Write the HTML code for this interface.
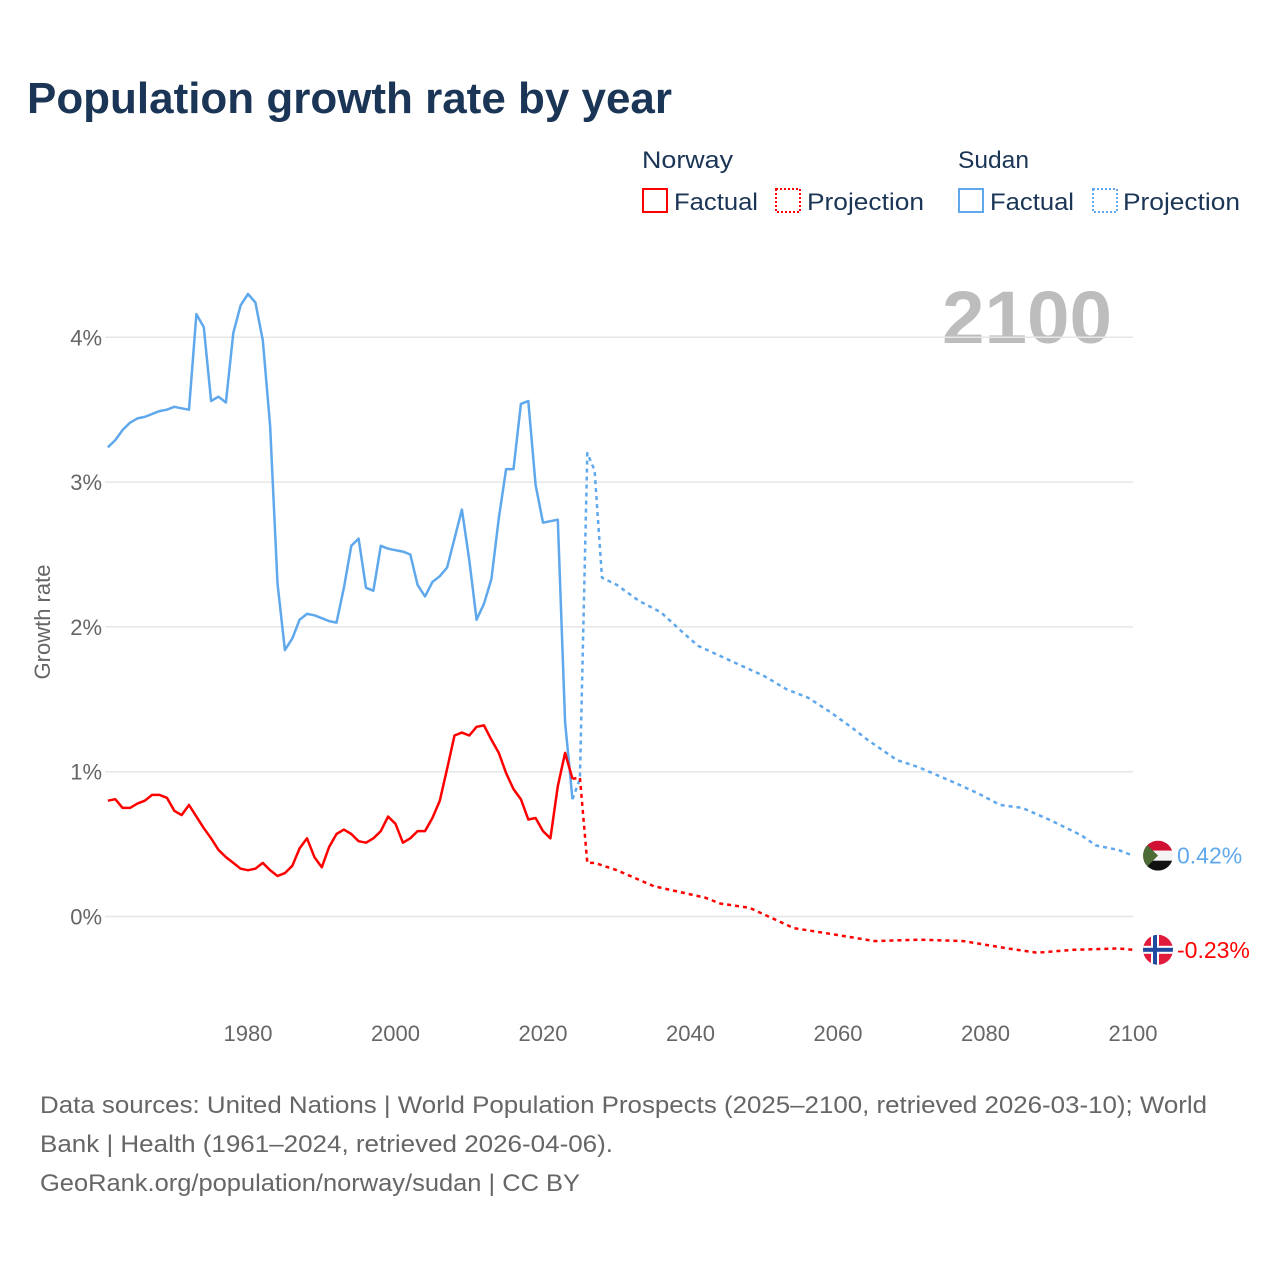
<!DOCTYPE html>
<html><head><meta charset="utf-8"><style>
html,body{margin:0;padding:0;background:#fff;}
svg{display:block;font-family:"Liberation Sans",sans-serif;}
</style></head><body>
<svg id="chart" width="1280" height="1280" viewBox="0 0 1280 1280">
<text x="27" y="113" font-size="44" font-weight="bold" fill="#1b3556" textLength="645" lengthAdjust="spacingAndGlyphs">Population growth rate by year</text>
<g>
<text x="642" y="168" font-size="24" fill="#1b3556" textLength="91" lengthAdjust="spacingAndGlyphs">Norway</text>
<text x="958" y="168" font-size="24" fill="#1b3556" textLength="71" lengthAdjust="spacingAndGlyphs">Sudan</text>
<g><rect x="643" y="189" width="24" height="23" fill="none" stroke="#ff0000" stroke-width="2"/><text x="674" y="210" font-size="24" fill="#1b3556" textLength="84" lengthAdjust="spacingAndGlyphs">Factual</text></g>
<g><rect x="776" y="189" width="24" height="23" fill="none" stroke="#ff0000" stroke-width="2" stroke-dasharray="2,2"/><text x="807" y="210" font-size="24" fill="#1b3556" textLength="117" lengthAdjust="spacingAndGlyphs">Projection</text></g>
<g><rect x="959" y="189" width="24" height="23" fill="none" stroke="#5fa8ec" stroke-width="2"/><text x="990" y="210" font-size="24" fill="#1b3556" textLength="84" lengthAdjust="spacingAndGlyphs">Factual</text></g>
<g><rect x="1093" y="189" width="24" height="23" fill="none" stroke="#5fa8ec" stroke-width="2" stroke-dasharray="2,2"/><text x="1123" y="210" font-size="24" fill="#1b3556" textLength="117" lengthAdjust="spacingAndGlyphs">Projection</text></g>
</g>
<text x="1112" y="343" font-size="74" font-weight="bold" fill="#bdbdbd" text-anchor="end" textLength="170" lengthAdjust="spacingAndGlyphs">2100</text>
<text transform="translate(50,622) rotate(-90)" font-size="22" fill="#666" text-anchor="middle">Growth rate</text>
<g id="grid"></g><g id="marks"></g>
<g font-size="24" fill="#666">
<text x="40" y="1113" textLength="1167" lengthAdjust="spacingAndGlyphs">Data sources: United Nations | World Population Prospects (2025–2100, retrieved 2026-03-10); World</text>
<text x="40" y="1152" textLength="573" lengthAdjust="spacingAndGlyphs">Bank | Health (1961–2024, retrieved 2026-04-06).</text>
<text x="40" y="1191" textLength="540" lengthAdjust="spacingAndGlyphs">GeoRank.org/population/norway/sudan | CC BY</text>
</g>
</svg>
<script>
const factualYears = [1961,1962,1963,1964,1965,1966,1967,1968,1969,1970,1971,1972,1973,1974,1975,1976,1977,1978,1979,1980,1981,1982,1983,1984,1985,1986,1987,1988,1989,1990,1991,1992,1993,1994,1995,1996,1997,1998,1999,2000,2001,2002,2003,2004,2005,2006,2007,2008,2009,2010,2011,2012,2013,2014,2015,2016,2017,2018,2019,2020,2021,2022,2023,2024];
const sudanFactual = [3.24,3.29,3.36,3.41,3.44,3.45,3.47,3.49,3.50,3.52,3.51,3.50,4.16,4.07,3.56,3.59,3.55,4.03,4.22,4.30,4.24,3.98,3.39,2.30,1.84,1.92,2.05,2.09,2.08,2.06,2.04,2.03,2.27,2.56,2.61,2.27,2.25,2.56,2.54,2.53,2.52,2.50,2.29,2.21,2.31,2.35,2.41,2.61,2.81,2.46,2.05,2.16,2.33,2.75,3.09,3.09,3.54,3.56,2.98,2.72,2.73,2.74,1.34,0.81];
const norwayFactual = [0.80,0.81,0.75,0.75,0.78,0.80,0.84,0.84,0.82,0.73,0.70,0.77,0.69,0.61,0.54,0.46,0.41,0.37,0.33,0.32,0.33,0.37,0.32,0.28,0.30,0.35,0.47,0.54,0.41,0.34,0.48,0.57,0.60,0.57,0.52,0.51,0.54,0.59,0.69,0.64,0.51,0.54,0.59,0.59,0.68,0.80,1.02,1.25,1.27,1.25,1.31,1.32,1.22,1.13,0.99,0.88,0.81,0.67,0.68,0.59,0.54,0.90,1.13,0.95];
const sudanProjYears = [2024,2025,2026,2027,2028,2030,2033,2036,2039,2041,2044,2047,2050,2053,2056,2059,2062,2064,2068,2071,2076,2079,2082,2085,2089,2093,2095,2098,2100];
const sudanProjection = [0.81,0.95,3.20,3.08,2.34,2.29,2.18,2.10,1.96,1.87,1.80,1.73,1.66,1.57,1.51,1.41,1.30,1.22,1.08,1.03,0.92,0.85,0.77,0.75,0.66,0.56,0.49,0.46,0.42];
const norwayProjYears = [2024,2025,2026,2027,2030,2035,2042,2044,2048,2054,2059,2065,2071,2077,2083,2087,2092,2098,2100];
const norwayProjection = [0.95,0.96,0.37,0.37,0.32,0.21,0.13,0.09,0.06,-0.08,-0.12,-0.17,-0.16,-0.17,-0.22,-0.25,-0.23,-0.22,-0.23];
const yTicks = [0,1,2,3,4];
const yTickLabels = ["0%","1%","2%","3%","4%"];
const xTicks = [1980,2000,2020,2040,2060,2080,2100];

const NS="http://www.w3.org/2000/svg";
function xs(yr){return 248+(yr-1980)*7.375;}
function ys(v){return 916.5-v*144.8;}
function mk(tag,attrs,parent){const e=document.createElementNS(NS,tag);for(const k in attrs)e.setAttribute(k,attrs[k]);parent.appendChild(e);return e;}
const grid=document.getElementById('grid'), marks=document.getElementById('marks');
yTicks.forEach((t,i)=>{
  const l=mk('line',{x1:105,x2:1133,y1:ys(t),y2:ys(t),stroke:'#e6e6e6','stroke-width':1.5},grid);
  
  
  const tx=mk('text',{x:102,y:ys(t)+8,'font-size':22,fill:'#666','text-anchor':'end'},grid);
  tx.textContent=yTickLabels[i];
  
  
});
xTicks.forEach(t=>{
  const tx=mk('text',{x:xs(t),y:1041,'font-size':22,fill:'#666','text-anchor':'middle'},grid);
  tx.textContent=t;
  
  
});
function path(xa,va,color,dash,name){
  const d=xa.map((yr,i)=>(i?'L':'M')+xs(yr).toFixed(1)+','+ys(va[i]).toFixed(1)).join('');
  const p=mk('path',{d:d,fill:'none',stroke:color,'stroke-width':2.5,'stroke-linejoin':'round'},marks);
  if(dash)p.setAttribute('stroke-dasharray','4,4');
  
  
}
path(sudanProjYears,sudanProjection,'#5fa8ec',true,'sudan-projection-line');
path(norwayProjYears,norwayProjection,'#ff0000',true,'norway-projection-line');
path(factualYears,sudanFactual,'#5fa8ec',false,'sudan-factual-line');
path(factualYears,norwayFactual,'#ff0000',false,'norway-factual-line');

// end markers
const sx=1158, sy=ys(sudanProjection[sudanProjection.length-1]);
const ny=ys(norwayProjection[norwayProjection.length-1]);
const fs=mk('g',{},marks);


mk('clipPath',{id:'cs'},fs).appendChild(Object.assign(document.createElementNS(NS,'circle'),{}));
fs.querySelector('clipPath circle').setAttribute('cx',sx);fs.querySelector('clipPath circle').setAttribute('cy',sy);fs.querySelector('clipPath circle').setAttribute('r',15);
const gs=mk('g',{'clip-path':'url(#cs)'},fs);
mk('rect',{x:sx-15,y:sy-15,width:30,height:10,fill:'#d21034'},gs);
mk('rect',{x:sx-15,y:sy-5,width:30,height:10,fill:'#f4f4f4'},gs);
mk('rect',{x:sx-15,y:sy+5,width:30,height:10,fill:'#111'},gs);
mk('polygon',{points:`${sx-15},${sy-15} ${sx},${sy} ${sx-15},${sy+15}`,fill:'#4c6b35'},gs);
const fn=mk('g',{},marks);


const cp=mk('clipPath',{id:'cn'},fn); mk('circle',{cx:sx,cy:ny,r:15},cp);
const gn=mk('g',{'clip-path':'url(#cn)'},fn);
mk('rect',{x:sx-15,y:ny-15,width:30,height:30,fill:'#e01b3c'},gn);
mk('rect',{x:sx-15,y:ny-4,width:30,height:8,fill:'#fff'},gn);
mk('rect',{x:sx-7,y:ny-15,width:8,height:30,fill:'#fff'},gn);
mk('rect',{x:sx-15,y:ny-2,width:30,height:4,fill:'#1f4aa0'},gn);
mk('rect',{x:sx-5,y:ny-15,width:4,height:30,fill:'#1f4aa0'},gn);
const ls=mk('text',{x:1177,y:sy+8,'font-size':23,fill:'#5fa8ec'},marks);
ls.textContent=sudanProjection[sudanProjection.length-1].toFixed(2)+'%';


const ln=mk('text',{x:1177,y:ny+8,'font-size':23,fill:'#ff0000'},marks);
ln.textContent=norwayProjection[norwayProjection.length-1].toFixed(2)+'%';


</script>
</body></html>
